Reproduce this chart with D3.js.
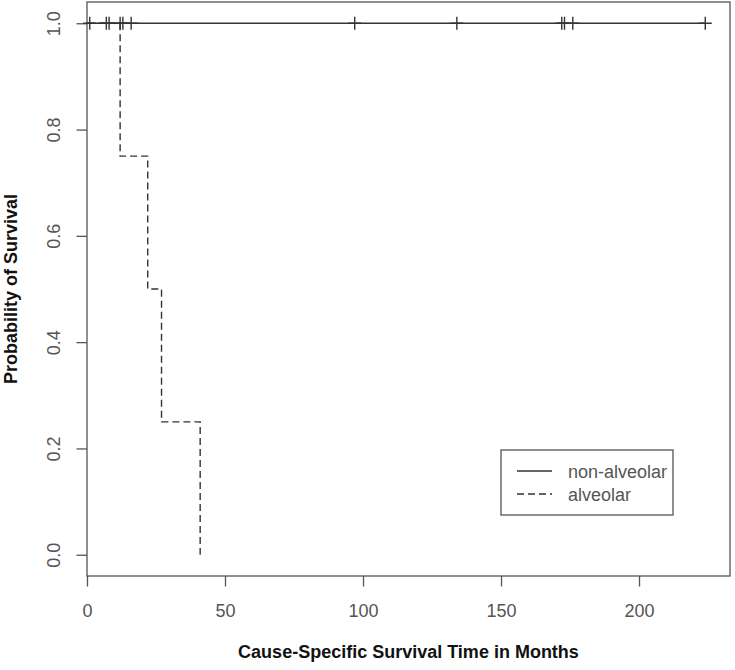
<!DOCTYPE html>
<html>
<head>
<meta charset="utf-8">
<script src="https://cdn.jsdelivr.net/npm/d3@7"></script>
<style>
  body { margin: 0; background: #fff; }
  svg { display: block; font-family: "Liberation Sans", Arial, sans-serif; }
</style>
</head>
<body>
<div id="chart"></div>
<script>
// censored times, non-alveolar group (all censored, survival stays at 1)
const nonAlveolarTimes = [1, 7, 8, 12, 13, 16, 97, 134, 172, 173, 176, 224];
// event times and survival after each event, alveolar group
const alveolarTimes = [0, 12, 22, 27, 41];
const alveolarSurv = [1, 0.75, 0.5, 0.25, 0];
const xTicks = [0, 50, 100, 150, 200];
const yTicks = [0, 0.2, 0.4, 0.6, 0.8, 1.0];
const legendLabels = ["non-alveolar", "alveolar"];

const width = 735, height = 670;
const box = { left: 87, right: 730, top: 2, bottom: 576 };
const lineColor = "#333";
const axisColor = "#555";
const textColor = "#555";

const svg = d3.select("#chart")
    .append("svg")
    .attr("width", width)
    .attr("height", height);

// R survfit style: x extended 4% on the right only, y 4% both sides
const x = d3.scaleLinear()
    .domain([0, 224 * 1.04])
    .range([box.left, box.right]);
const y = d3.scaleLinear()
    .domain([-0.04, 1.04])
    .range([box.bottom, box.top]);

const gx = svg.append("g")
    .attr("transform", `translate(0,${box.bottom})`)
    .call(d3.axisBottom(x).tickValues(xTicks).tickSize(10.5).tickPadding(0).tickFormat(d3.format("d")))
    .call(g => g.select(".domain").remove());
gx.selectAll("line").attr("stroke", axisColor).attr("stroke-width", 1.3);
gx.selectAll("text")
    .attr("dy", null)
    .attr("y", 40.5)
    .attr("font-size", 18)
    .attr("fill", textColor);

const gy = svg.append("g")
    .attr("transform", `translate(${box.left},0)`)
    .call(d3.axisLeft(y).tickValues(yTicks).tickSize(10.5).tickFormat(d3.format(".1f")))
    .call(g => g.select(".domain").remove());
gy.selectAll("line").attr("stroke", axisColor).attr("stroke-width", 1.3);
gy.selectAll("text")
    .attr("x", null)
    .attr("dy", null)
    .attr("transform", "translate(-27.5,0) rotate(-90)")
    .attr("text-anchor", "middle")
    .attr("font-size", 18)
    .attr("fill", textColor);

svg.selectAll("g").attr("font-family", null);

// plot box
svg.append("rect")
    .attr("x", box.left)
    .attr("y", box.top)
    .attr("width", box.right - box.left)
    .attr("height", box.bottom - box.top)
    .attr("fill", "none")
    .attr("stroke", axisColor)
    .attr("stroke-width", 1.3);

// non-alveolar curve
svg.append("line")
    .attr("x1", x(0))
    .attr("x2", x(d3.max(nonAlveolarTimes)))
    .attr("y1", y(1))
    .attr("y2", y(1))
    .attr("stroke", lineColor)
    .attr("stroke-width", 1.4);

// censor marks (+)
const markSize = 6.5;
svg.append("g")
    .selectAll("path")
    .data(nonAlveolarTimes)
    .join("path")
    .attr("d", d => `M${x(d) - markSize},${y(1)}h${2 * markSize}M${x(d)},${y(1) - markSize}v${2 * markSize}`)
    .attr("stroke", lineColor)
    .attr("stroke-width", 1.4)
    .attr("fill", "none");

// alveolar curve
const line = d3.line()
    .x(d => x(d[0]))
    .y(d => y(d[1]))
    .curve(d3.curveStepAfter);

svg.append("path")
    .attr("d", line(d3.zip(alveolarTimes, alveolarSurv)))
    .attr("fill", "none")
    .attr("stroke", lineColor)
    .attr("stroke-width", 1.4)
    .attr("stroke-dasharray", "7,4");

// axis titles
svg.append("text")
    .attr("x", (box.left + box.right) / 2)
    .attr("y", 658)
    .attr("text-anchor", "middle")
    .attr("font-size", 18)
    .attr("font-weight", "bold")
    .attr("fill", "#111")
    .text("Cause-Specific Survival Time in Months");

svg.append("text")
    .attr("transform", `translate(17,${(box.top + box.bottom) / 2}) rotate(-90)`)
    .attr("text-anchor", "middle")
    .attr("font-size", 18)
    .attr("font-weight", "bold")
    .attr("fill", "#111")
    .text("Probability of Survival");

// legend
const legend = svg.append("g");
legend.append("rect")
    .attr("x", 501)
    .attr("y", 450)
    .attr("width", 172)
    .attr("height", 65)
    .attr("fill", "#fff")
    .attr("stroke", axisColor)
    .attr("stroke-width", 1.3);

const rows = legend.selectAll("g.row")
    .data(legendLabels)
    .join("g")
    .attr("class", "row")
    .attr("transform", (_, i) => `translate(0,${471 + i * 23})`);

rows.append("line")
    .attr("x1", 517)
    .attr("x2", 552)
    .attr("stroke", lineColor)
    .attr("stroke-width", 1.4)
    .attr("stroke-dasharray", (_, i) => i == 1 ? "7,4" : null);

rows.append("text")
    .attr("x", 568)
    .attr("y", 6.5)
    .attr("font-size", 18)
    .attr("fill", textColor)
    .text(d => d);
</script>
</body>
</html>
